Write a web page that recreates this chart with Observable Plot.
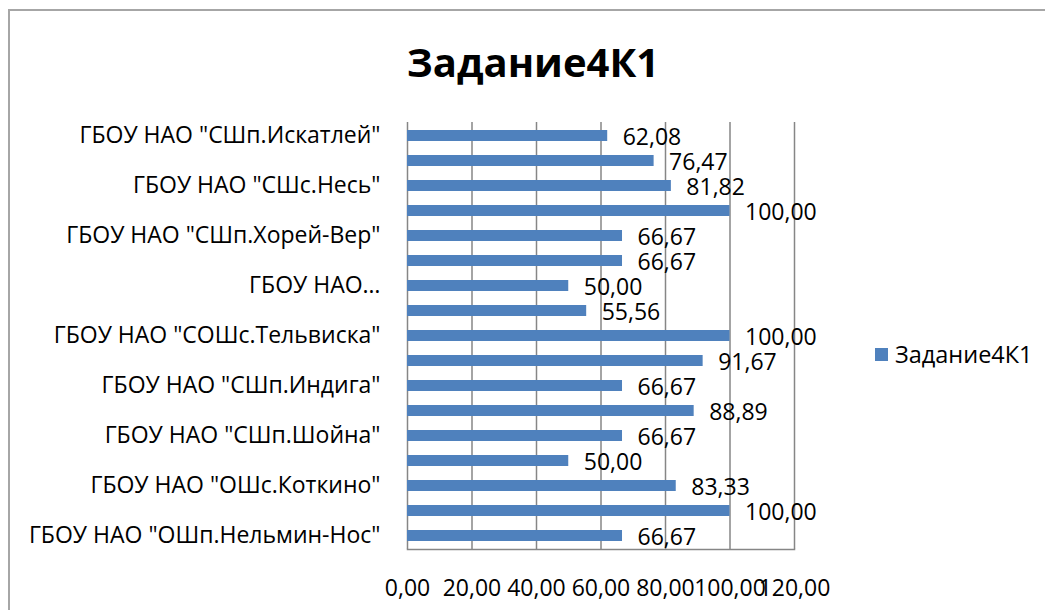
<!DOCTYPE html>
<html>
<head>
<meta charset="utf-8">
<script src="https://cdn.jsdelivr.net/npm/d3@7"></script>
<script src="https://cdn.jsdelivr.net/npm/@observablehq/plot@0.6"></script>
<style>
  html, body { margin: 0; padding: 0; background: #fff; overflow: hidden; }
  #wrap { position: relative; width: 1045px; height: 610px; overflow: hidden; font-family: "Open Sans", sans-serif; }
  #border { position: absolute; left: 8px; top: 9px; width: 1100px; height: 700px; border: 2px solid #a6a6a6; box-sizing: border-box; }
  #chart { position: absolute; left: 0; top: 0; }
  #title { position: absolute; left: 0; width: 1066px; top: 34px; text-align: center; font-size: 40px; font-weight: bold; color: #000; }
  #legend { position: absolute; left: 875px; top: 338px; font-size: 23.5px; color: #000; display: flex; align-items: center; }
  #legend .sw { width: 13px; height: 13px; background: #4F81BD; margin-right: 7px; }
</style>
</head>
<body>
<div id="wrap">
  <div id="border"></div>
  <div id="chart"></div>
  <div id="title"></div>
  <div id="legend"><div class="sw"></div><span id="legtext"></span></div>
</div>
<script>
const seriesName = "Задание4К1";
// categories, top to bottom (hidden labels shown as empty strings)
const schools = [
  'ГБОУ НАО "СШп.Искатлей"', '',
  'ГБОУ НАО "СШс.Несь"', '',
  'ГБОУ НАО "СШп.Хорей-Вер"', '',
  'ГБОУ НАО…', '',
  'ГБОУ НАО "СОШс.Тельвиска"', '',
  'ГБОУ НАО "СШп.Индига"', '',
  'ГБОУ НАО "СШп.Шойна"', '',
  'ГБОУ НАО "ОШс.Коткино"', '',
  'ГБОУ НАО "ОШп.Нельмин-Нос"'
];
const values = [62.08, 76.47, 81.82, 100.00, 66.67, 66.67, 50.00, 55.56, 100.00, 91.67, 66.67, 88.89, 66.67, 50.00, 83.33, 100.00, 66.67];
const xTicks = [0, 20, 40, 60, 80, 100, 120];

const data = values.map((v, i) => ({idx: i, value: v}));
const fmt = v => d3.format(".2f")(v).replace(".", ",");

document.getElementById("title").textContent = seriesName;
document.getElementById("legtext").textContent = seriesName;

const chart = Plot.plot({
  width: 1045,
  height: 610,
  marginLeft: 407,
  marginRight: 251,
  marginTop: 122,
  marginBottom: 61,
  style: {fontFamily: "'Open Sans', sans-serif", background: "transparent", color: "#000"},
  x: {domain: [0, 120], ticks: xTicks},
  y: {domain: d3.range(values.length), paddingInner: 0.58, paddingOuter: 0.29},
  marks: [
    Plot.gridX(xTicks, {stroke: "#868686", strokeOpacity: 1, strokeWidth: 1.5}),
    Plot.frame({anchor: "bottom", stroke: "#868686", strokeWidth: 1.5}),
    Plot.barX(data, {x: "value", y: "idx", fill: "#4F81BD"}),
    Plot.text(data, {x: "value", y: "idx", text: d => fmt(d.value), textAnchor: "start", dx: 15, dy: 2, fontSize: 23, fill: "#000"}),
    Plot.axisX(xTicks, {tickSize: 0, tickPadding: 30, tickFormat: fmt, fontSize: 23, label: null}),
    Plot.axisY({tickSize: 0, tickPadding: 27, tickFormat: i => schools[i], fontSize: 23, label: null})
  ]
});
document.getElementById("chart").appendChild(chart);
</script>
</body>
</html>
